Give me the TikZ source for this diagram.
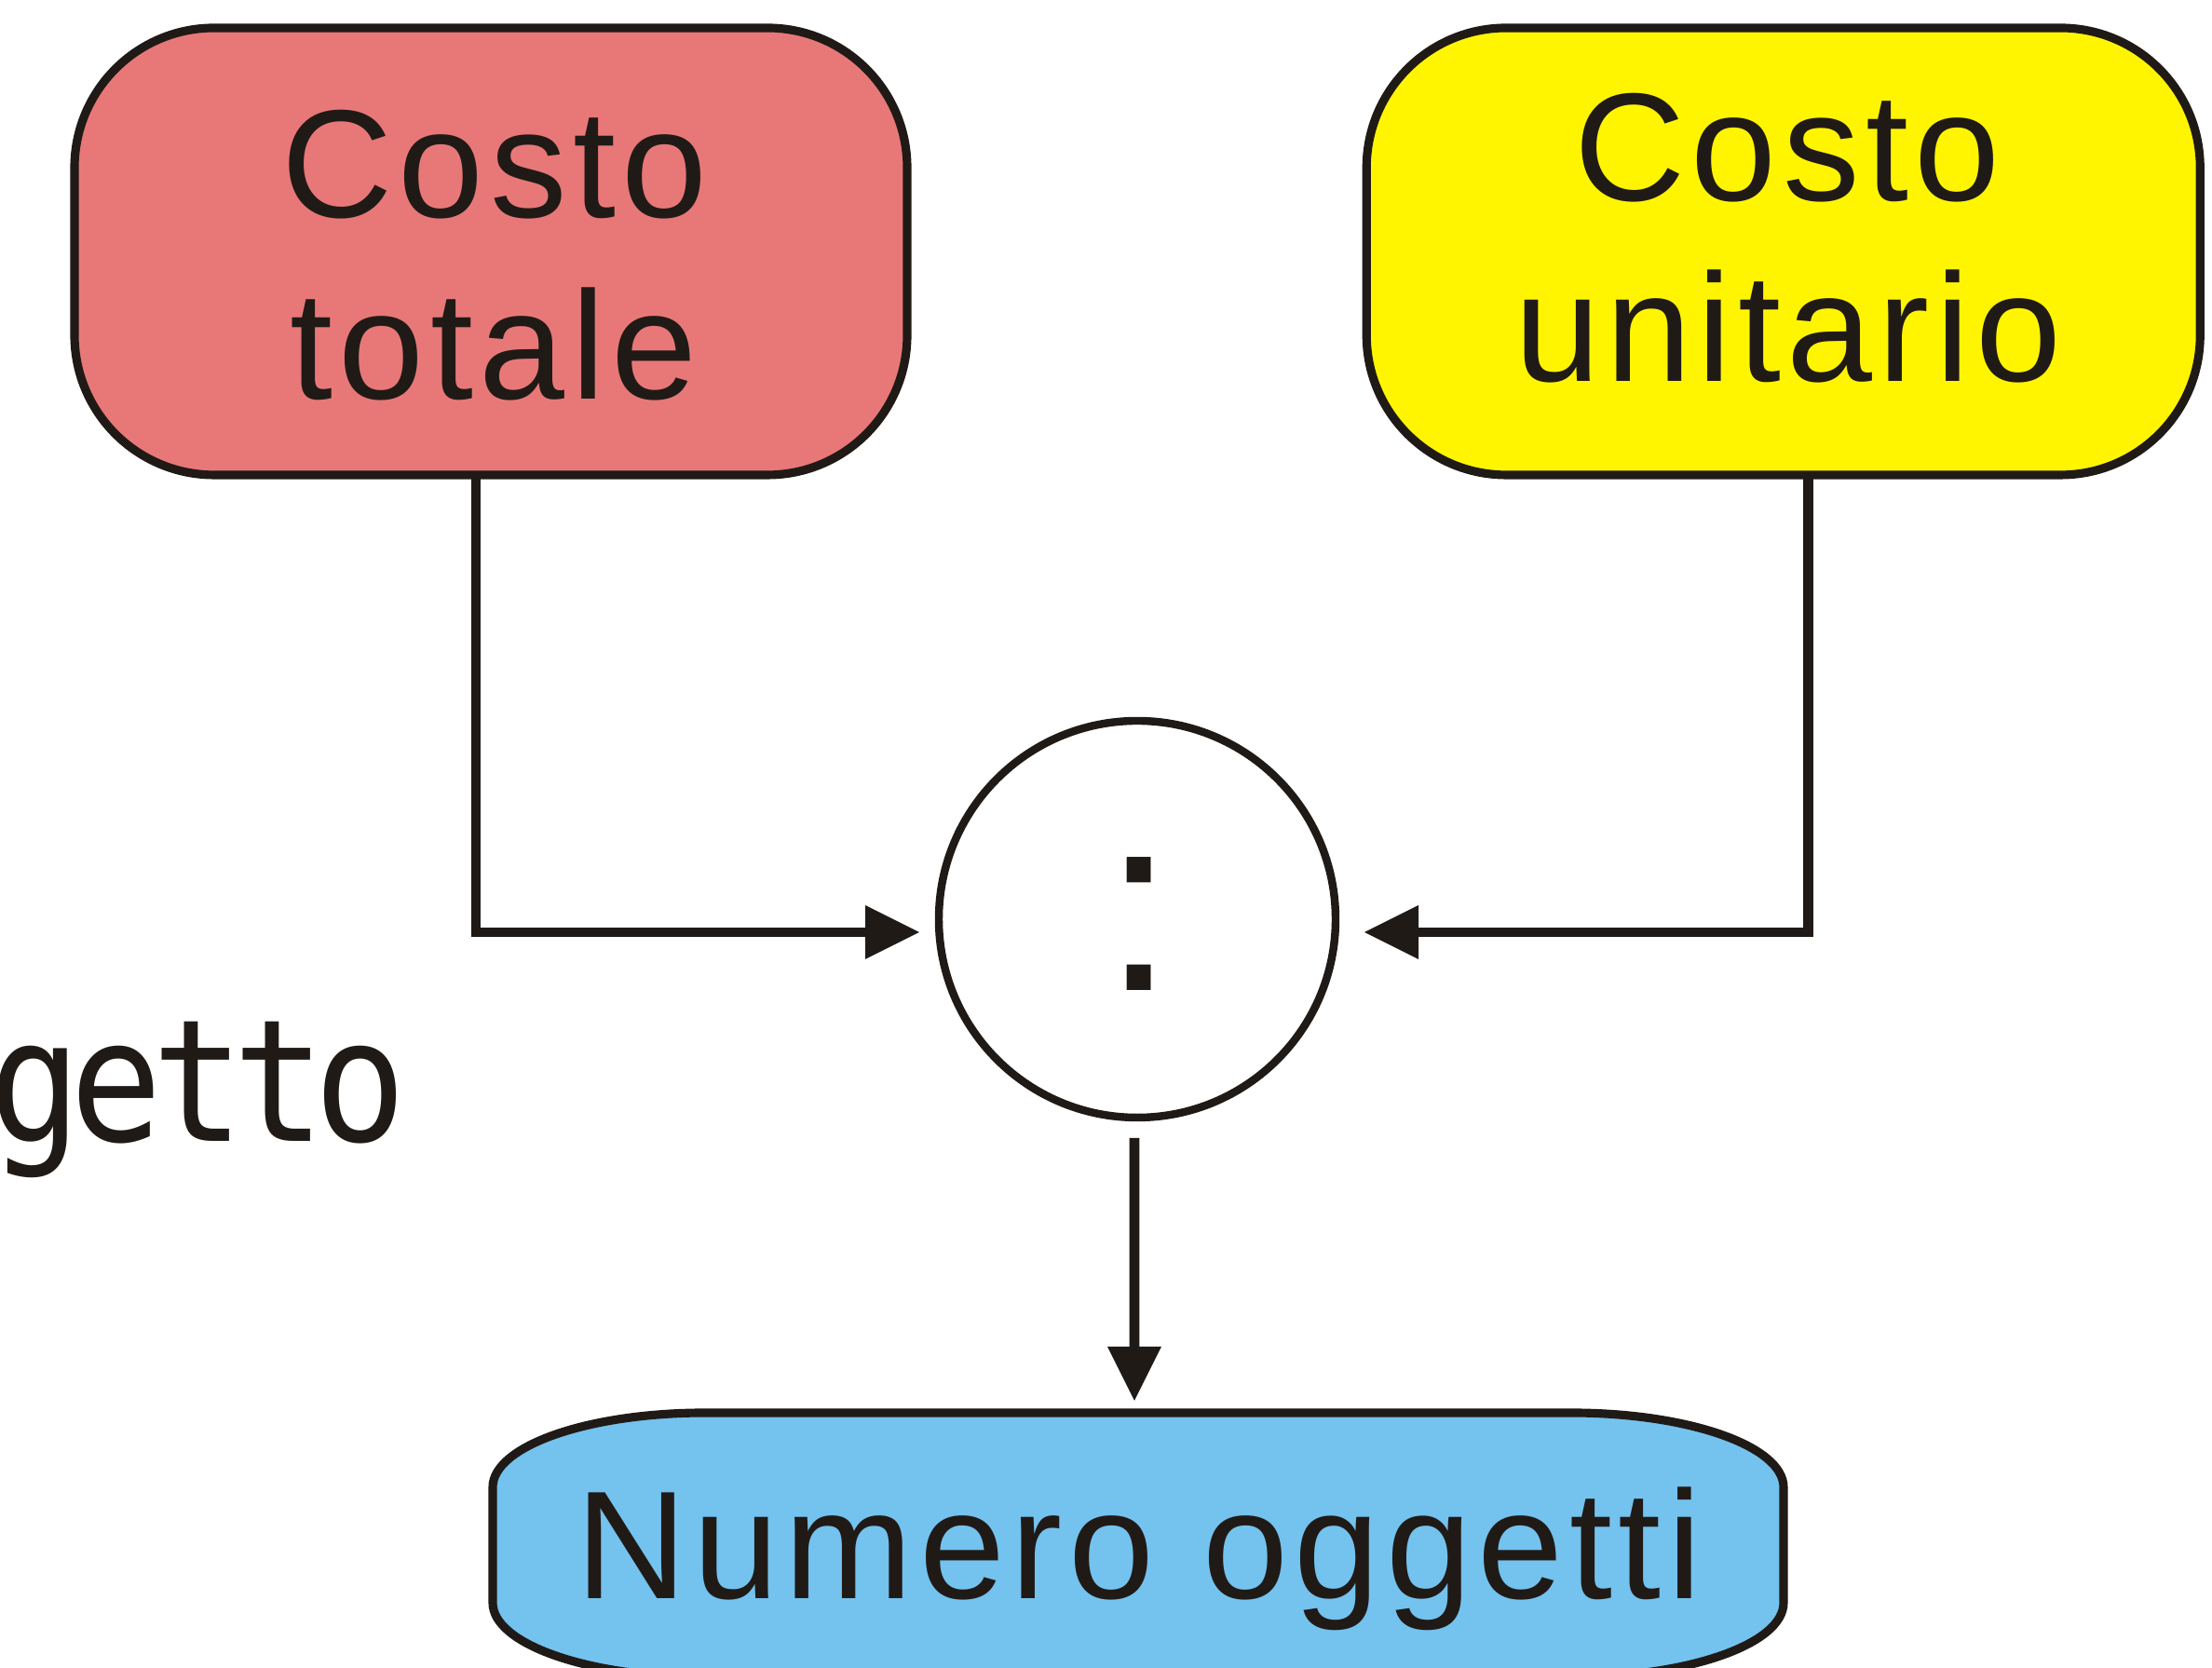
\documentclass[tikz,border=0pt]{standalone}
\usepackage{fontspec}
\setmainfont{Liberation Sans}
\newfontfamily\labfont[LetterSpace=4]{Liberation Sans}
\newfontfamily\monofont[FakeStretch=0.9,LetterSpace=-6.5]{DejaVu Sans Mono}
\usetikzlibrary{arrows.meta}
\definecolor{ink}{HTML}{201A17}
\definecolor{tpink}{HTML}{E87878}
\definecolor{uyellow}{HTML}{FFF500}
\definecolor{nblue}{HTML}{74C2EE}
\begin{document}
\begin{tikzpicture}[
  costbox/.style={draw=ink, line width=2.6pt, rounded corners=1.5cm, minimum height=4.8cm, inner sep=0pt, outer sep=0pt},
  lbl/.style={anchor=base, inner sep=0pt, text=ink, font=\labfont\fontsize{47pt}{56pt}\selectfont},
  conn/.style={draw=ink, line width=3pt, miter limit=10, -{Triangle[length=0.58cm,width=0.58cm,line width=0pt]}},
]
\useasboundingbox (0,0) rectangle (23.75,17.91);

% top boxes
\node[costbox, fill=tpink, minimum width=8.94cm] (ct) at (5.27,15.21) {};
\node[costbox, fill=uyellow, minimum width=8.95cm] (cu) at (19.1475,15.21) {};
\node[lbl] (ct1) at (5.31,15.57) {Costo};
\node[lbl] (ct2) at (5.30,13.62) {totale};
\node[lbl] (cu1) at (19.19,15.755) {Costo};
\node[lbl] (cu2) at (19.20,13.81) {unitario};

% division circle
\node[circle, draw=ink, line width=2.4pt, fill=white, minimum size=4.26cm, inner sep=0pt, outer sep=0pt] (div) at (12.21,8.04) {};
\node[anchor=base, inner sep=0pt, text=ink, font=\fontsize{77pt}{80pt}\selectfont] (col) at (12.23,7.27) {:};

% bottom box
\node[rectangle, minimum width=13.86cm, minimum height=2.84cm, inner sep=0pt, outer sep=0pt] (no) at (12.22,1.32) {};
\path[draw=ink, line width=2.6pt, fill=nblue]
 ([xshift=2.28cm]no.north west) -- ([xshift=-2.28cm]no.north east)
 arc[start angle=90, end angle=0, x radius=2.28cm, y radius=0.8cm]
 -- ([yshift=0.8cm]no.south east)
 arc[start angle=0, end angle=-90, x radius=2.28cm, y radius=0.8cm]
 -- ([xshift=2.28cm]no.south west)
 arc[start angle=270, end angle=180, x radius=2.28cm, y radius=0.8cm]
 -- ([yshift=-0.8cm]no.north west)
 arc[start angle=180, end angle=90, x radius=2.28cm, y radius=0.8cm]
 -- cycle;
\node[lbl] (nol) at (12.23,0.74) {Numero oggetti};

% partial word at left
\node[anchor=base west, inner sep=0pt, text=ink, font=\monofont\fontsize{52pt}{60pt}\selectfont] (ogg) at (-0.12,5.65) {getto};

% connectors
\coordinate (tipL) at (9.87,7.90);
\coordinate (tipR) at (14.65,7.90);
\coordinate (tipD) at (12.18,2.87);
\draw[conn] ([xshift=-0.16cm]ct.south) |- (tipL);
\draw[conn] ([xshift=0.27cm]cu.south) |- (tipR);
\draw[conn] ([xshift=-0.03cm,yshift=-0.22cm]div.south) -- (tipD);
\end{tikzpicture}
\end{document}
